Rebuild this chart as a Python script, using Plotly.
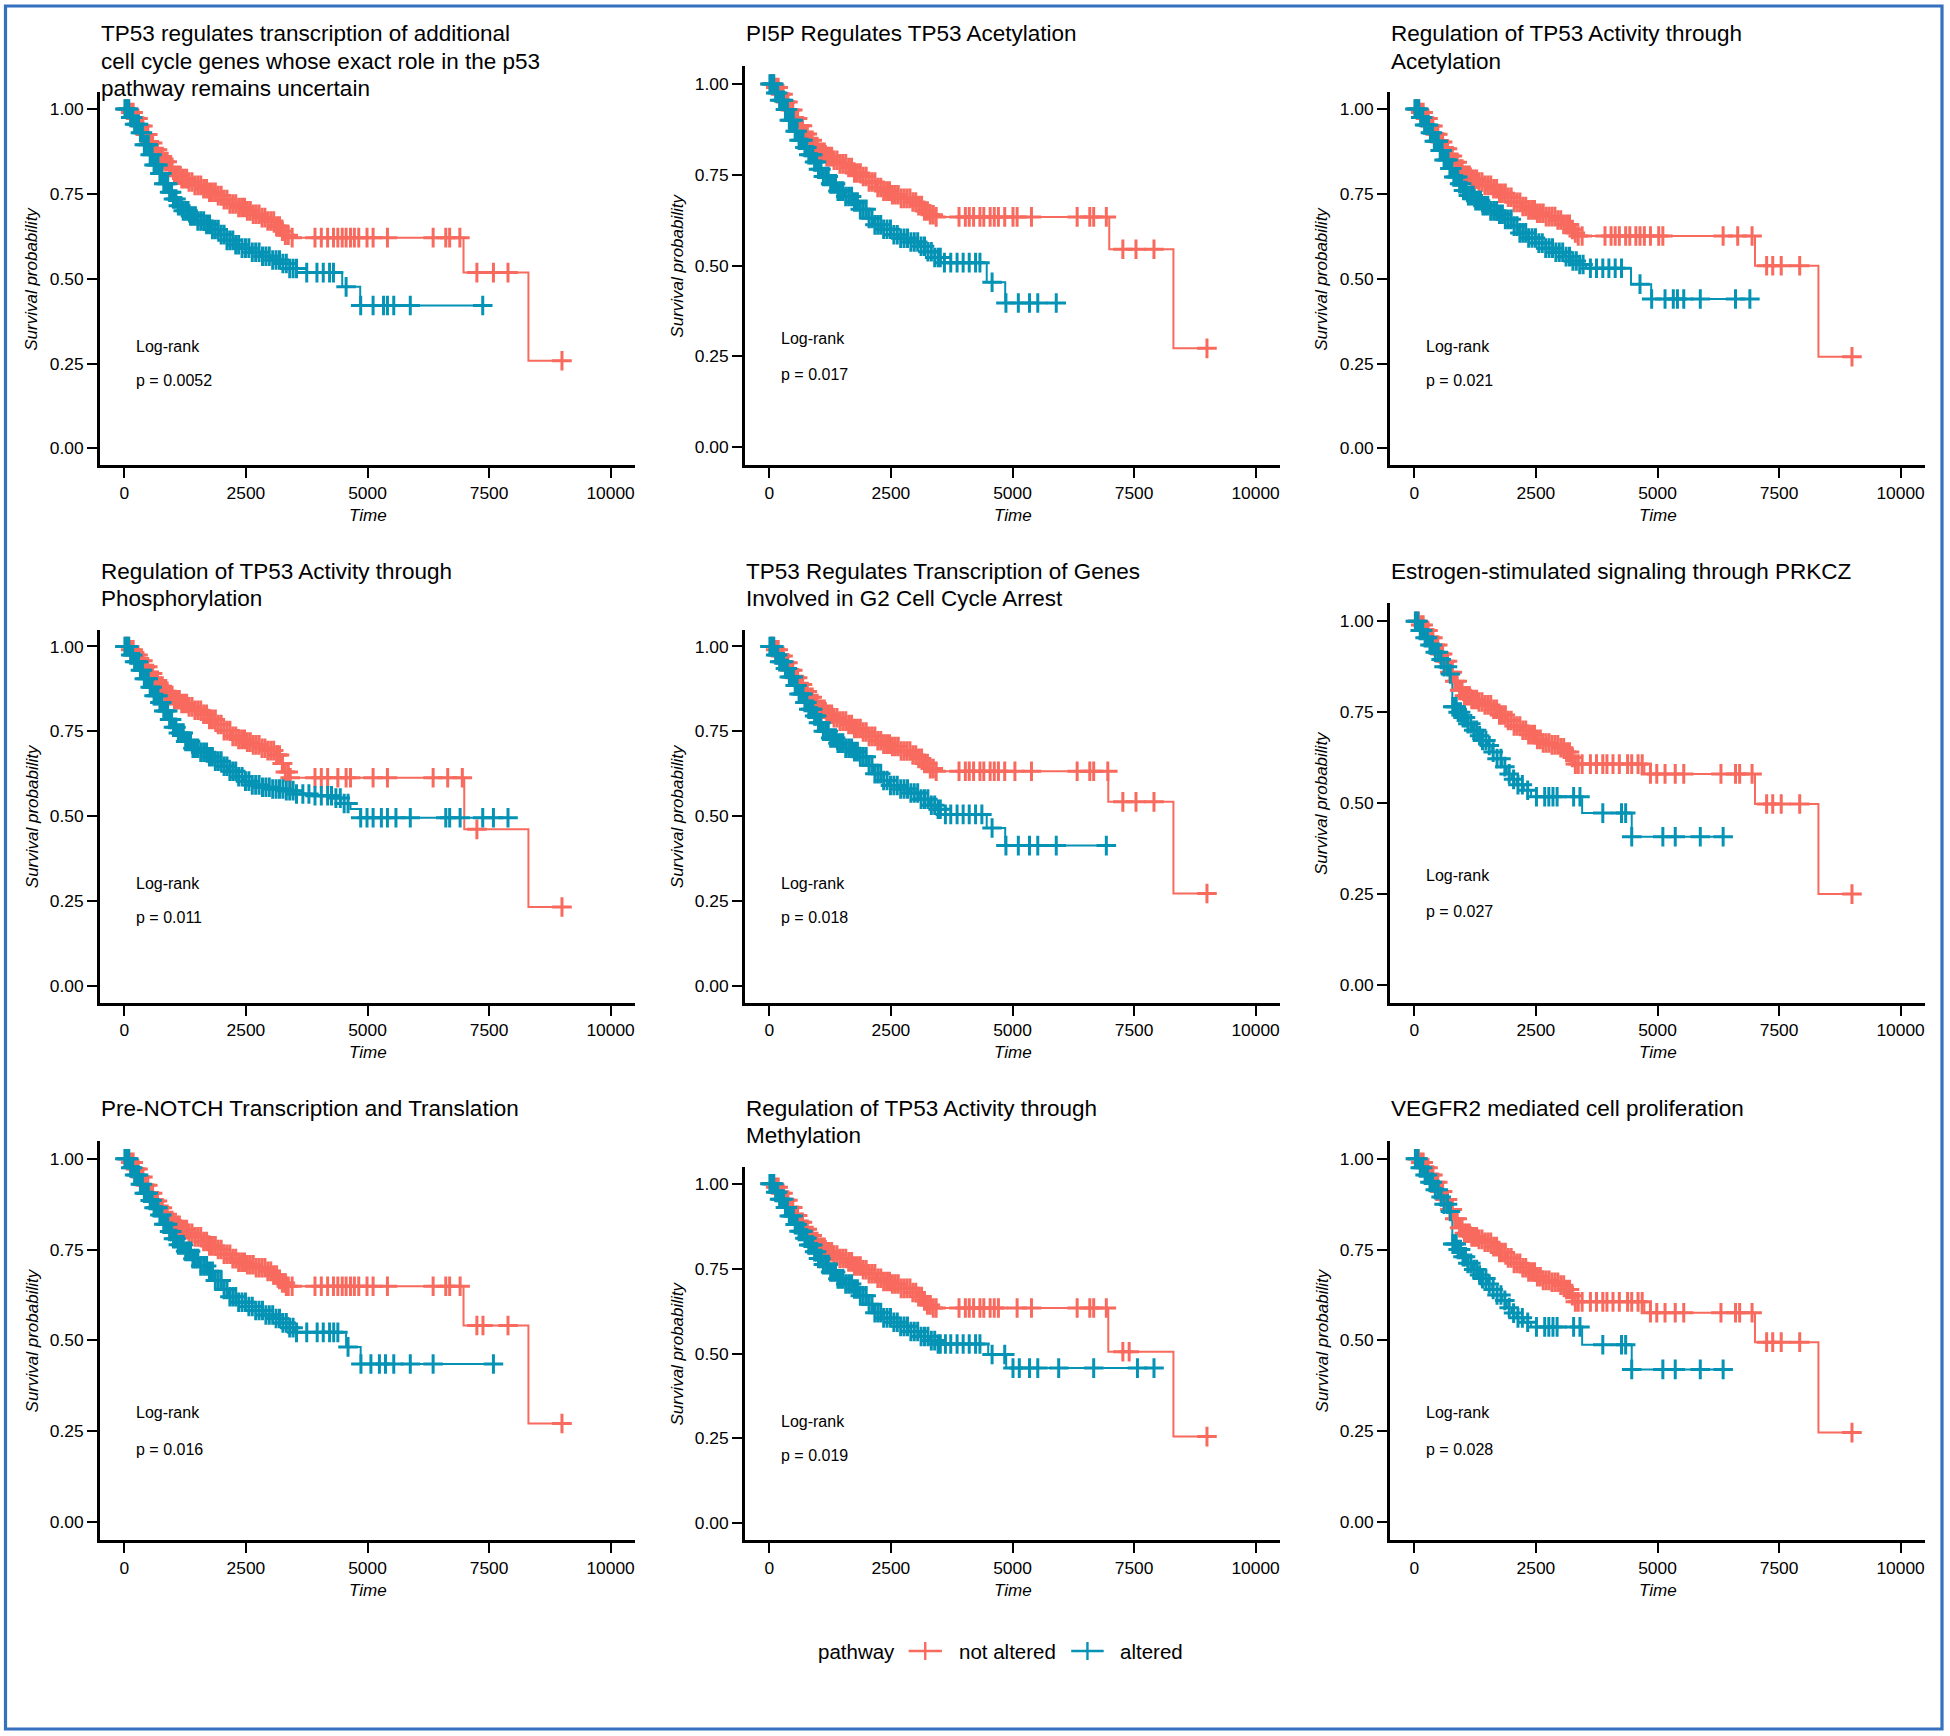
import numpy as np
import plotly.graph_objects as go

W, H = 1950, 1736
FONT = "Liberation Sans, Arial, Helvetica, sans-serif"
RED = "#F8695E"
TEAL = "#0593B5"

TITLES = [
    ["TP53 regulates transcription of additional", "cell cycle genes whose exact role in the p53", "pathway remains uncertain"],
    ["PI5P Regulates TP53 Acetylation"],
    ["Regulation of TP53 Activity through", "Acetylation"],
    ["Regulation of TP53 Activity through", "Phosphorylation"],
    ["TP53 Regulates Transcription of Genes", "Involved in G2 Cell Cycle Arrest"],
    ["Estrogen-stimulated signaling through PRKCZ"],
    ["Pre-NOTCH Transcription and Translation"],
    ["Regulation of TP53 Activity through", "Methylation"],
    ["VEGFR2 mediated cell proliferation"],
]
PVALUES = ["p = 0.0052", "p = 0.017", "p = 0.021", "p = 0.011", "p = 0.018",
           "p = 0.027", "p = 0.016", "p = 0.019", "p = 0.028"]
GROUPS = ["not altered", "altered"]
X_TICKS = [0, 2500, 5000, 7500, 10000]
Y_TICKS = [0, 0.25, 0.5, 0.75, 1.0]

# early (dense) censoring times
EARLY_NA = [30, 80, 130, 180, 230, 280, 330, 380, 430, 480, 530, 580, 630, 680, 730, 780, 830, 880,
            930, 980, 1030, 1080, 1130, 1180, 1230, 1280, 1330, 1390, 1450, 1510, 1570, 1630, 1690,
            1750, 1810, 1870, 1930, 1990, 2050, 2110, 2170, 2230, 2290, 2350, 2410, 2470, 2530, 2590,
            2650, 2710, 2770, 2830, 2890, 2950, 3010, 3070, 3130, 3190, 3250, 3310, 3370]
EARLY_AL = [10, 50, 90, 130, 170, 210, 250, 290, 330, 370, 410, 450, 490, 530, 570, 610, 650, 690,
            730, 770, 810, 850, 890, 930, 970, 1010, 1060, 1110, 1160, 1210, 1260, 1310, 1360, 1410,
            1460, 1510, 1570, 1630, 1690, 1750, 1810, 1870, 1930, 1990, 2050, 2110, 2170, 2230, 2290,
            2350, 2420, 2490, 2560, 2630, 2700, 2770, 2840, 2910, 2980, 3050, 3120, 3190, 3260, 3330,
            3400, 3470]
EARLY_AL_SPARSE = [20, 70, 120, 170, 220, 270, 320, 370, 430, 490, 550, 610, 680, 740, 790, 820, 860,
                   900, 950, 1000, 1050, 1100, 1160, 1220, 1280, 1340, 1400, 1470, 1540, 1620, 1700,
                   1780, 1860, 1950, 2040, 2130, 2220, 2330]

# ---- panel 1
P1_NA_T = [0,100,200,300,400,500,600,700,800,900,1000,1150,1300,1450,1600,1750,1900,2000,2150,2300,2500,2650,2800,2950,3100,3200,3300,3400,6975,8310]
P1_NA_S = [1.0,0.99,0.972,0.95,0.925,0.90,0.88,0.86,0.845,0.828,0.805,0.795,0.785,0.775,0.765,0.755,0.745,0.733,0.72,0.71,0.70,0.69,0.68,0.67,0.655,0.64,0.628,0.621,0.518,0.258]
P1_NA_C = [3450,3920,4050,4180,4300,4390,4480,4560,4650,4730,4820,4990,5115,5410,6350,6610,6690,6900,7250,7590,7890,9000]
P1_AL_T = [0,100,200,300,400,500,600,700,800,900,1000,1100,1200,1350,1500,1650,1800,1950,2100,2250,2400,2600,2800,3000,3200,3400,3550,4480,4850]
P1_AL_S = [1.0,0.975,0.955,0.93,0.895,0.865,0.835,0.81,0.78,0.755,0.735,0.715,0.70,0.685,0.67,0.66,0.645,0.63,0.613,0.60,0.59,0.578,0.566,0.555,0.545,0.53,0.518,0.476,0.421]
P1_AL_C = [3540,3750,3960,4090,4220,4300,4560,4860,5115,5330,5410,5540,5880,7370]

# ---- panel 2
P2_NA_T = [0,100,200,300,400,500,600,700,800,900,1000,1150,1300,1450,1600,1750,1900,2050,2200,2350,2500,2700,2900,3050,3150,3300,3430,6990,8310]
P2_NA_S = [1.0,0.99,0.972,0.95,0.928,0.905,0.885,0.862,0.845,0.828,0.812,0.80,0.79,0.78,0.77,0.755,0.745,0.73,0.715,0.705,0.695,0.685,0.675,0.665,0.65,0.64,0.634,0.545,0.272]
P2_NA_C = [3430,3900,4030,4110,4200,4330,4410,4540,4625,4710,4840,5010,5095,5390,6330,6590,6670,6930,7270,7540,7910,9000]
P2_AL_T = [0,100,200,300,400,500,600,700,800,900,1000,1100,1250,1400,1550,1700,1850,2000,2150,2300,2500,2700,2900,3100,3250,3400,3520,4470,4850]
P2_AL_S = [1.0,0.975,0.955,0.93,0.90,0.87,0.845,0.825,0.805,0.785,0.765,0.745,0.725,0.705,0.69,0.675,0.655,0.63,0.612,0.60,0.585,0.575,0.565,0.553,0.538,0.522,0.508,0.454,0.397]
P2_AL_C = [3515,3600,3730,3860,3985,4110,4240,4330,4580,4865,5120,5350,5520,5900]

# ---- panel 3
P3_NA_T = [0,100,200,300,400,500,600,700,800,900,1000,1150,1300,1450,1600,1750,1900,2050,2200,2350,2500,2700,2900,3050,3200,3300,3370,7005,8310]
P3_NA_S = [1.0,0.99,0.972,0.95,0.926,0.903,0.883,0.862,0.843,0.823,0.805,0.793,0.785,0.775,0.765,0.752,0.74,0.725,0.713,0.703,0.693,0.683,0.673,0.66,0.645,0.635,0.626,0.538,0.27]
P3_NA_C = [3450,3920,4045,4130,4215,4345,4430,4555,4640,4730,4855,5025,5110,6350,6650,6945,7245,7370,7545,7925,9000]
P3_AL_T = [0,100,200,300,400,500,600,700,800,900,1000,1100,1250,1400,1550,1700,1850,2000,2150,2300,2500,2700,2900,3100,3250,3400,3530,4455,4870]
P3_AL_S = [1.0,0.975,0.953,0.93,0.905,0.878,0.85,0.825,0.80,0.78,0.76,0.745,0.73,0.715,0.70,0.69,0.675,0.655,0.635,0.62,0.605,0.59,0.578,0.565,0.552,0.542,0.531,0.484,0.44]
P3_AL_C = [3620,3745,3875,4000,4130,4260,4640,4880,5155,5325,5410,5540,5880,6605,6900]

# ---- panel 4
P4_NA_T = [0,100,200,300,400,500,600,700,800,900,1000,1150,1300,1450,1600,1750,1900,2050,2200,2350,2500,2650,2800,2950,3100,3200,3300,3400,6990,8310]
P4_NA_S = [1.0,0.99,0.975,0.958,0.94,0.92,0.90,0.883,0.868,0.855,0.843,0.832,0.822,0.812,0.80,0.785,0.77,0.752,0.735,0.726,0.718,0.71,0.70,0.693,0.68,0.655,0.63,0.613,0.461,0.232]
P4_NA_C = [3150,3250,3410,3920,4050,4180,4390,4560,4650,5115,5410,6350,6650,6950,7250,9000]
P4_AL_T = [0,100,200,300,400,500,600,700,800,900,1000,1100,1250,1400,1550,1700,1850,2000,2150,2300,2450,2600,2800,3000,3300,3500,3800,4300,4450,4650,4850]
P4_AL_S = [1.0,0.975,0.955,0.93,0.905,0.88,0.855,0.835,0.81,0.785,0.762,0.745,0.72,0.70,0.688,0.675,0.662,0.647,0.632,0.616,0.603,0.592,0.585,0.58,0.575,0.565,0.56,0.553,0.537,0.521,0.495]
P4_AL_C = [3540,3670,3795,3920,4050,4180,4260,4350,4440,4520,4600,4860,4990,5115,5285,5410,5585,5880,6610,6690,6905,7370,7590,7890]

# ---- panel 5
P5_NA_T = [0,100,200,300,400,500,600,700,800,900,1000,1150,1300,1450,1600,1750,1900,2050,2200,2350,2500,2700,2900,3050,3150,3300,3390,6970,8310]
P5_NA_S = [1.0,0.99,0.972,0.952,0.93,0.908,0.888,0.867,0.85,0.832,0.815,0.80,0.79,0.78,0.77,0.758,0.748,0.735,0.722,0.712,0.705,0.692,0.68,0.67,0.655,0.64,0.632,0.542,0.272]
P5_NA_C = [3430,3900,4030,4110,4200,4330,4410,4540,4625,4710,4840,5050,5390,6330,6590,6670,6960,7270,7540,7910,9000]
P5_AL_T = [0,100,200,300,400,500,600,700,800,900,1000,1100,1250,1400,1550,1700,1850,2000,2150,2300,2450,2650,2900,3100,3300,3450,3520,4470,4850]
P5_AL_S = [1.0,0.975,0.955,0.935,0.91,0.885,0.86,0.835,0.815,0.795,0.775,0.75,0.73,0.715,0.70,0.69,0.675,0.65,0.625,0.605,0.59,0.58,0.568,0.55,0.532,0.52,0.505,0.465,0.413]
P5_AL_C = [3515,3620,3730,3860,3985,4110,4240,4370,4580,4865,5120,5350,5520,5900,6930]

# ---- panel 6
P6_NA_T = [0,100,200,300,400,500,600,700,800,900,1000,1150,1300,1450,1600,1750,1900,2050,2200,2350,2500,2650,2800,3000,3100,3200,3300,4730,7005,8310]
P6_NA_S = [1.0,0.99,0.975,0.955,0.935,0.91,0.89,0.86,0.835,0.81,0.795,0.785,0.778,0.77,0.758,0.742,0.727,0.712,0.70,0.688,0.675,0.665,0.66,0.652,0.64,0.625,0.607,0.58,0.497,0.249]
P6_NA_C = [3450,3620,3745,3875,3960,4085,4215,4385,4470,4600,4685,4855,4985,5155,5365,5540,6305,6605,6690,6945,7245,7370,7545,7925,9000]
P6_AL_T = [0,100,200,300,400,500,600,700,780,900,1000,1100,1200,1300,1400,1500,1600,1700,1800,1900,2000,2100,2250,2400,3450,4470]
P6_AL_S = [1.0,0.975,0.955,0.935,0.915,0.895,0.875,0.855,0.765,0.75,0.735,0.718,0.70,0.685,0.672,0.658,0.64,0.622,0.60,0.58,0.565,0.55,0.535,0.517,0.472,0.407]
P6_AL_C = [2510,2680,2765,2850,2935,3275,3405,3875,4260,4345,4470,5110,5365,5880,6350]

# ---- panel 7
P7_NA_T = [0,100,200,300,400,500,600,700,800,900,1000,1150,1300,1450,1600,1750,1900,2050,2200,2350,2500,2700,2900,3050,3150,3250,3330,6975,8310]
P7_NA_S = [1.0,0.99,0.972,0.95,0.927,0.905,0.884,0.865,0.847,0.83,0.817,0.805,0.795,0.785,0.772,0.76,0.75,0.737,0.725,0.715,0.708,0.70,0.69,0.68,0.668,0.658,0.649,0.541,0.271]
P7_NA_C = [3330,3450,3920,4050,4180,4300,4390,4480,4560,4650,4730,4820,4990,5115,5410,6350,6610,6690,6905,7250,7375,7890,9000]
P7_AL_T = [0,100,200,300,400,500,600,700,800,900,1000,1100,1250,1400,1550,1700,1850,2000,2150,2300,2500,2700,2900,3100,3250,3400,3500,4560,4860]
P7_AL_S = [1.0,0.975,0.955,0.93,0.905,0.885,0.865,0.845,0.82,0.80,0.78,0.763,0.745,0.725,0.705,0.69,0.665,0.64,0.62,0.605,0.593,0.582,0.57,0.56,0.548,0.535,0.522,0.482,0.435]
P7_AL_C = [3540,3750,3965,4090,4220,4305,4390,4600,4865,5070,5245,5370,5540,5880,6350,7590]

# ---- panel 8
P8_NA_T = [0,100,200,300,400,500,600,700,800,900,1000,1150,1300,1450,1600,1750,1900,2050,2200,2350,2500,2700,2900,3050,3150,3250,3350,6970,8310]
P8_NA_S = [1.0,0.99,0.972,0.952,0.93,0.907,0.887,0.866,0.848,0.83,0.813,0.80,0.79,0.78,0.77,0.758,0.747,0.735,0.722,0.712,0.705,0.692,0.68,0.668,0.655,0.643,0.634,0.505,0.255]
P8_NA_C = [3430,3900,4030,4110,4200,4330,4410,4540,4625,4710,5095,5390,6330,6590,6670,6930,7270,7400,9000]
P8_AL_T = [0,100,200,300,400,500,600,700,800,900,1000,1100,1250,1400,1550,1700,1850,2000,2150,2300,2500,2700,2900,3100,3300,3430,4500,4870]
P8_AL_S = [1.0,0.975,0.955,0.93,0.905,0.88,0.86,0.84,0.82,0.80,0.78,0.762,0.74,0.72,0.705,0.69,0.67,0.645,0.62,0.605,0.592,0.58,0.565,0.55,0.538,0.528,0.497,0.457]
P8_AL_C = [3515,3620,3730,3860,3985,4110,4240,4330,4580,4840,5010,5140,5350,5520,5950,6670,7570,7910]

# ---- panel 9
P9_NA_T = [0,100,200,300,400,500,600,700,800,900,1000,1150,1300,1450,1600,1750,1900,2050,2200,2350,2500,2650,2800,3000,3100,3200,3300,4730,7005,8310]
P9_NA_S = [1.0,0.99,0.975,0.955,0.935,0.91,0.888,0.86,0.835,0.81,0.795,0.785,0.778,0.77,0.758,0.742,0.727,0.712,0.70,0.688,0.675,0.665,0.66,0.652,0.64,0.623,0.606,0.576,0.495,0.246]
P9_NA_C = [3450,3620,3745,3875,3960,4085,4215,4385,4470,4600,4685,4855,4985,5155,5365,5540,6305,6605,6690,6945,7245,7370,7545,7925,9000]
P9_AL_T = [0,100,200,300,400,500,600,700,780,900,1000,1100,1200,1300,1400,1500,1600,1700,1800,1900,2000,2100,2250,2400,3450,4470]
P9_AL_S = [1.0,0.975,0.955,0.935,0.915,0.895,0.875,0.855,0.765,0.75,0.73,0.712,0.695,0.68,0.67,0.655,0.64,0.625,0.61,0.59,0.575,0.562,0.55,0.537,0.488,0.42]
P9_AL_C = [2510,2680,2765,2850,2935,3275,3405,3875,4260,4345,4470,5110,5365,5880,6350]

PANELS = [
    (P1_NA_T, P1_NA_S, EARLY_NA + P1_NA_C, P1_AL_T, P1_AL_S, EARLY_AL + P1_AL_C),
    (P2_NA_T, P2_NA_S, EARLY_NA + P2_NA_C, P2_AL_T, P2_AL_S, EARLY_AL + P2_AL_C),
    (P3_NA_T, P3_NA_S, EARLY_NA + P3_NA_C, P3_AL_T, P3_AL_S, EARLY_AL + P3_AL_C),
    (P4_NA_T, P4_NA_S, EARLY_NA + P4_NA_C, P4_AL_T, P4_AL_S, EARLY_AL + P4_AL_C),
    (P5_NA_T, P5_NA_S, EARLY_NA + P5_NA_C, P5_AL_T, P5_AL_S, EARLY_AL + P5_AL_C),
    (P6_NA_T, P6_NA_S, EARLY_NA + P6_NA_C, P6_AL_T, P6_AL_S, EARLY_AL_SPARSE + P6_AL_C),
    (P7_NA_T, P7_NA_S, EARLY_NA + P7_NA_C, P7_AL_T, P7_AL_S, EARLY_AL + P7_AL_C),
    (P8_NA_T, P8_NA_S, EARLY_NA + P8_NA_C, P8_AL_T, P8_AL_S, EARLY_AL + P8_AL_C),
    (P9_NA_T, P9_NA_S, EARLY_NA + P9_NA_C, P9_AL_T, P9_AL_S, EARLY_AL_SPARSE + P9_AL_C),
]


def step_at(ts, ss, cs):
    ts = np.asarray(ts, float)
    ss = np.asarray(ss, float)
    idx = np.searchsorted(ts, np.asarray(cs, float), side="right") - 1
    return ss[np.clip(idx, 0, len(ss) - 1)]


fig = go.Figure()
layout = dict(width=W, height=H, margin=dict(l=0, r=0, t=0, b=0),
              paper_bgcolor="white", plot_bgcolor="white", showlegend=False,
              font=dict(family=FONT, color="black"))
annotations = []
shapes = []


def px(x):
    return x / W


def py(y):
    return 1 - y / H


for k, (nt, ns, nc, at, as_, ac) in enumerate(PANELS):
    assert len(nt) == len(ns) and len(at) == len(as_), k
    r, c = divmod(k, 3)
    left = 100.1 + 645 * c
    right = left + 534.8
    bottom = 465.3 + 537.4 * r
    top = bottom - (399.5 if len(TITLES[k]) == 1 else 373.2)
    sfx = "" if k == 0 else str(k + 1)
    xa, ya = "x" + sfx, "y" + sfx
    common = dict(showline=True, linecolor="black", linewidth=2.8, ticks="outside", ticklen=10,
                  tickwidth=2.4, tickcolor="black", showgrid=False, zeroline=False,
                  tickfont=dict(size=17.4, color="black", family=FONT), fixedrange=True)
    layout["xaxis" + sfx] = dict(domain=[px(left), px(right)], anchor=ya, range=[-500, 10500],
                                 tickmode="array", tickvals=X_TICKS,
                                 ticktext=[str(v) for v in X_TICKS], **common)
    layout["yaxis" + sfx] = dict(domain=[py(bottom), py(top)], anchor=xa, range=[-0.05, 1.05],
                                 tickmode="array", tickvals=Y_TICKS,
                                 ticktext=["%.2f" % v for v in Y_TICKS], **common)

    curves = [(nt, ns, sorted(nc), RED), (at, as_, sorted(ac), TEAL)]
    for ts, ss, cs, col in curves:
        end = max(cs)
        fig.add_trace(go.Scatter(x=list(ts) + [end], y=list(ss) + [ss[-1]], xaxis=xa, yaxis=ya,
                                 mode="lines", line=dict(color=col, width=2.0, shape="hv"),
                                 hoverinfo="skip"))
    for ts, ss, cs, col in curves:
        fig.add_trace(go.Scatter(x=cs, y=step_at(ts, ss, cs), xaxis=xa, yaxis=ya, mode="markers",
                                 marker=dict(symbol="cross-thin", size=14, color=col,
                                             line=dict(width=3.0, color=col)),
                                 hoverinfo="skip"))

    # titles
    for i, line in enumerate(TITLES[k]):
        annotations.append(dict(text=line, x=px(left - 1), y=py(bottom - 431.4 + 27.2 * i),
                                xref="paper", yref="paper", xanchor="left", yanchor="middle",
                                showarrow=False, font=dict(size=22.5, color="black", family=FONT)))
    # axis titles
    annotations.append(dict(text="<i>Time</i>", x=px((left + right) / 2), y=py(bottom + 50),
                            xref="paper", yref="paper", xanchor="center", yanchor="middle",
                            showarrow=False, font=dict(size=17, color="black", family=FONT)))
    annotations.append(dict(text="<i>Survival probability</i>", x=px(left - 68),
                            y=py((top + bottom) / 2), xref="paper", yref="paper",
                            xanchor="center", yanchor="middle", textangle=-90, showarrow=False,
                            font=dict(size=17, color="black", family=FONT)))
    # log-rank text
    annotations.append(dict(text="Log-rank", x=190, y=0.30, xref=xa, yref=ya, xanchor="left",
                            yanchor="middle", showarrow=False,
                            font=dict(size=16, color="black", family=FONT)))
    annotations.append(dict(text=PVALUES[k], x=190, y=0.20, xref=xa, yref=ya, xanchor="left",
                            yanchor="middle", showarrow=False,
                            font=dict(size=16, color="black", family=FONT)))

# legend
LEG_Y = 1651
annotations.append(dict(text="pathway", x=px(816), y=py(LEG_Y), xref="paper", yref="paper",
                        xanchor="left", yanchor="middle", showarrow=False,
                        font=dict(size=20.5, color="black", family=FONT)))
for (x0, x1, xt, label, col) in [(908.6, 941.9, 957, GROUPS[0], RED),
                                 (1071.2, 1103.7, 1118, GROUPS[1], TEAL)]:
    xc = (x0 + x1) / 2
    shapes.append(dict(type="line", xref="paper", yref="paper", x0=px(x0), x1=px(x1),
                       y0=py(LEG_Y), y1=py(LEG_Y), line=dict(color=col, width=2.4)))
    shapes.append(dict(type="line", xref="paper", yref="paper", x0=px(xc), x1=px(xc),
                       y0=py(LEG_Y - 9), y1=py(LEG_Y + 9), line=dict(color=col, width=2.4)))
    annotations.append(dict(text=label, x=px(xt), y=py(LEG_Y), xref="paper", yref="paper",
                            xanchor="left", yanchor="middle", showarrow=False,
                            font=dict(size=20.5, color="black", family=FONT)))

# outer frame
shapes.append(dict(type="rect", xref="paper", yref="paper", x0=px(5.5), x1=px(1942),
                   y0=py(1729), y1=py(6), line=dict(color="#3571BE", width=3.2),
                   fillcolor="rgba(0,0,0,0)"))

layout["annotations"] = annotations
layout["shapes"] = shapes
fig.update_layout(**layout)
fig.write_html("out.html", config={"displayModeBar": False},
               post_script="document.body.style.margin='0';document.body.style.padding='0';"
                           "document.body.style.overflow='hidden';")
